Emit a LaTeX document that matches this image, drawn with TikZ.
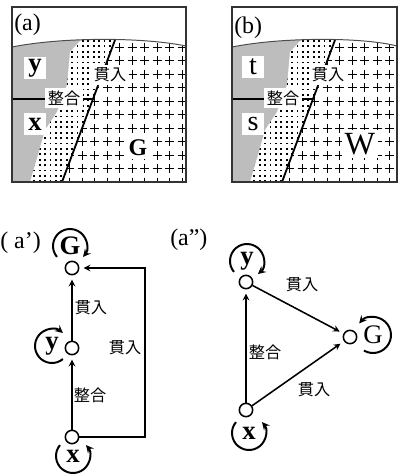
\documentclass[tikz,border=0pt]{standalone}
\usepackage{fontspec}
\setmainfont{Liberation Serif}
\newfontfamily\jpfont{Noto Sans CJK JP}
\definecolor{rockgray}{gray}{0.74}

\begin{document}
\begin{tikzpicture}[
    x=0.025cm, y=-0.025cm,
    >=stealth,
    jp/.style={font=\jpfont\fontsize{11.5}{12}\selectfont},
    pane/.style={fill=white, inner sep=2pt},
    box/.style={fill=white, inner sep=0pt, minimum width=15pt, minimum height=16pt},
    tag/.style={font=\fontsize{17}{18}\selectfont, anchor=west, inner sep=0pt},
    letter/.style={font=\bfseries\fontsize{19}{19}\selectfont},
    plain/.style={font=\fontsize{20}{20}\selectfont},
    site/.style={circle, draw, line width=1.1pt, minimum size=9.5pt, inner sep=0pt},
    link/.style={->, line width=1.1pt, shorten >=3pt},
    turn/.style={->, line width=1.4pt},
    cross/.style={line width=0.7pt},
]

\useasboundingbox (0,0) rectangle (398,475);

% === Cross sections (a) and (b) ===
\foreach \ox/\rx in {0/186, 220/177} {
  \begin{scope}[shift={(\ox,0)}]
    \begin{scope}
      % everything sits below the old surface
      \clip (12,47) .. controls (62,37) and (142,37) .. (\rx,46) -- (\rx,182) -- (12,182) -- cycle;
      \fill[rockgray] (12,30) -- (118.7,30) -- (62,182) -- (12,182) -- cycle;
      % dotted zone along the contact
      \fill[white] (92,30) -- (80,41) -- (70,52) -- (67,85) -- (57,112) -- (45,130)
          -- (38,155) -- (30,182) -- (62,182) -- (118.7,30) -- cycle;
      \begin{scope}
        \clip (92,30) -- (80,41) -- (70,52) -- (67,85) -- (57,112) -- (45,130)
            -- (38,155) -- (30,182) -- (62,182) -- (118.7,30) -- cycle;
        \foreach \i in {0,...,17}
          \foreach \j in {0,...,26}
            \fill ({28+5.4*\i},{40+5.4*\j}) rectangle +(1.8,1.8);
      \end{scope}
      % intrusion (crosses)
      \begin{scope}
        \clip (118.7,30) -- (\rx,30) -- (\rx,182) -- (62,182) -- cycle;
        \foreach \i in {0,...,10}
          \foreach \j in {0,...,10}
            \draw[cross] ({182-12.5*\i},{182-13.5*\j}) +(-4.5,0) -- +(4.5,0) +(0,-4.5) -- +(0,4.5);
      \end{scope}
    \end{scope}
    \draw[gray!60!black, line width=0.7pt] (12,47) .. controls (62,37) and (142,37) .. (\rx,46);
    \draw[line width=1.3pt] (115,40) -- (62,182);
    \draw[line width=1pt] (12,99) -- (93,99);
    \draw[gray!40!black, line width=0.9pt] (12,7) rectangle (\rx,182);
  \end{scope}
}

% labels of (a)
\node[tag] (tag-a) at (14,25) {(a)};
\node[box, letter] (a-up) at (35,68) {y};
\node[box, letter] (a-dn) at (35,124) {x};
\node[pane, jp] (a-int) at (110,75) {貫入};
\node[pane, jp] (a-con) at (64,98) {整合};
\node[box, font=\bfseries\fontsize{17}{17}\selectfont] (a-big) at (138,148) {G};

% labels of (b)
\node[tag] (tag-b) at (234,28) {(b)};
\node[box, plain] (b-up) at (253,67) {t};
\node[box, plain] (b-dn) at (253,124) {s};
\node[pane, jp] (b-int) at (328,75) {貫入};
\node[pane, jp] (b-con) at (283,98) {整合};
\node[pane, font=\fontsize{23}{23}\selectfont] (b-big) at (360,144) {W};

% === Graph (a') ===
\node[tag] (tag-a1) at (0,243) {( a’)};
\node[site] (Ga) at (72,268) {};
\node[site] (ya) at (72,348) {};
\node[site] (xa) at (72,437) {};
\node[letter] (Ga-lbl) at (70,246) {G};
\node[letter] (ya-lbl) at (52,346) {y};
\node[letter] (xa-lbl) at (73,456) {x};
\coordinate (ra) at (145,437);

\draw[link] (xa) -- (ya);
\draw[link] (ya) -- (Ga);
\draw[link] (xa.east) -- (ra) |- (Ga.east);
\node[jp] (ia1) at (91,308) {貫入};
\node[jp] (ca1) at (90,395) {整合};
\node[jp] (ia2) at (125,348) {貫入};

% self loops
\draw[turn] (Ga-lbl.center) ++(-220:17) arc (-220:40:17);
\draw[turn] (ya-lbl.center) ++(50:17) arc (50:310:17);
\draw[turn] (xa-lbl.center) ++(-140:17) arc (-140:-400:17);

% === Graph (a'') ===
\node[tag] (tag-a2) at (170,240) {(a”)};
\node[site] (yb) at (246,282) {};
\node[site] (Gb) at (350,337) {};
\node[site] (xb) at (246,410) {};
\node[letter] (yb-lbl) at (247,261) {y};
\node[font=\fontsize{19}{19}\selectfont] (Gb-lbl) at (373,335) {G};
\node[letter] (xb-lbl) at (249,433) {x};

\draw[link] (xb) -- (yb);
\draw[link] (yb) -- (Gb);
\draw[link] (xb) -- (Gb);
\node[jp] (cb1) at (265,352) {整合};
\node[jp] (ib1) at (302,285) {貫入};
\node[jp] (ib2) at (314,390) {貫入};

% self loops
\draw[turn] (yb-lbl.center) ++(-220:17) arc (-220:50:17);
\draw[turn] (Gb-lbl.center) ++(120:18) arc (120:-140:18);
\draw[turn] (xb-lbl.center) ++(-140:17) arc (-140:-400:17);

\end{tikzpicture}
\end{document}
